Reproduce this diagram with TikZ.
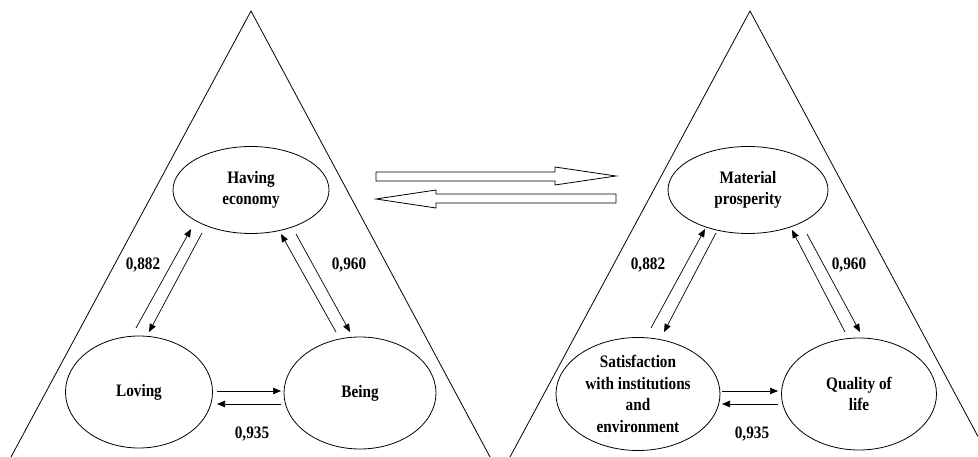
\documentclass[tikz,border=0pt]{standalone}
\usepackage{fontspec}
\setmainfont{Liberation Serif}[FakeStretch=0.87]
\usetikzlibrary{shapes.geometric,arrows.meta}
\tikzset{
  tri/.style={draw=black,line width=0.8pt},
  ell/.style={ellipse,draw=black,line width=0.8pt,inner sep=0pt,align=center,
    font=\bfseries\fontsize{17.5}{21.5}\selectfont},
  lbl/.style={font=\bfseries\fontsize{17.5}{20}\selectfont,inner sep=0pt},
  arr/.style={draw=black,line width=0.7pt,-{Triangle[length=8pt,width=6.5pt]}},
  hollow/.style={draw=black,line width=0.8pt,fill=white},
}
\begin{document}
\begin{tikzpicture}[x=1pt,y=-1pt]
\useasboundingbox (0,0) rectangle (978,457);
% triangles
\coordinate (LA) at (251,11);
\coordinate (LL) at (11,457);
\coordinate (LR) at (490,457);
\coordinate (RA) at (750,11);
\coordinate (RL) at (510,457);
\coordinate (RR) at (978,436.5);
\draw[tri] (LL) -- (LA) -- (LR);
\draw[tri] (RL) -- (RA) -- (RR);
% left ellipses
\node[ell,minimum width=156,minimum height=87] (have) at (251,190) {Having\\economy};
\node[ell,minimum width=147,minimum height=112] (love) at (139,392) {Loving};
\node[ell,minimum width=152,minimum height=112] (being) at (360,393) {Being};
% right ellipses
\node[ell,minimum width=160,minimum height=87] (mat) at (748,190) {Material\\prosperity};
\node[ell,minimum width=164,minimum height=113] (sat) at (638,394) {Satisfaction\\with institutions\\and\\environment};
\node[ell,minimum width=155,minimum height=112] (qol) at (859,394) {Quality of\\life};
% left connectors
\coordinate (a1s) at (136,328); \coordinate (a1e) at (191,229);
\coordinate (a2s) at (202,233); \coordinate (a2e) at (149,332);
\coordinate (b1s) at (336,332); \coordinate (b1e) at (281,234);
\coordinate (b2s) at (296,234); \coordinate (b2e) at (350,332);
\coordinate (c1s) at (217,391); \coordinate (c1e) at (281,391);
\coordinate (c2s) at (281,404); \coordinate (c2e) at (217,404);
\draw[arr] (a1s) -- (a1e);
\draw[arr] (a2s) -- (a2e);
\draw[arr] (b1s) -- (b1e);
\draw[arr] (b2s) -- (b2e);
\draw[arr] (c1s) -- (c1e);
\draw[arr] (c2s) -- (c2e);
\node[lbl] (l882) at (143,265) {0,882};
\node[lbl] (l960) at (349,265) {0,960};
\node[lbl] (l935) at (252,434) {0,935};
% right connectors
\coordinate (d1s) at (651,328); \coordinate (d1e) at (705,229);
\coordinate (d2s) at (716,233); \coordinate (d2e) at (664,332);
\coordinate (e1s) at (845,332); \coordinate (e1e) at (792,230);
\coordinate (e2s) at (807,234); \coordinate (e2e) at (860,332);
\coordinate (f1s) at (722,391); \coordinate (f1e) at (778,391);
\coordinate (f2s) at (778,404); \coordinate (f2e) at (722,404);
\draw[arr] (d1s) -- (d1e);
\draw[arr] (d2s) -- (d2e);
\draw[arr] (e1s) -- (e1e);
\draw[arr] (e2s) -- (e2e);
\draw[arr] (f1s) -- (f1e);
\draw[arr] (f2s) -- (f2e);
\node[lbl] (r882) at (648,265) {0,882};
\node[lbl] (r960) at (849,265) {0,960};
\node[lbl] (r935) at (752,434) {0,935};
% hollow arrows
\draw[hollow] (376,172) -- (555,172) -- (555,167) -- (616,176) -- (555,185) -- (555,181) -- (376,181) -- cycle;
\draw[hollow] (616,194) -- (436,194) -- (436,190) -- (376,199) -- (436,208) -- (436,203) -- (616,203) -- cycle;
\end{tikzpicture}
\end{document}
